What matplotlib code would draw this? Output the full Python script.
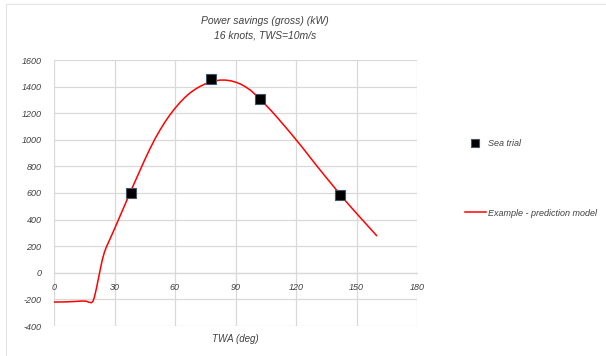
import matplotlib
matplotlib.use("Agg")
import matplotlib.pyplot as plt
from matplotlib.lines import Line2D
from matplotlib.patches import Rectangle

# data
trial_twa = [38, 78, 102, 142]
trial_kw = [600, 1460, 1305, 585]

model_twa = [0, 5, 10, 14, 16, 17.5, 18.5, 19.3, 20, 21, 22, 23, 24, 25, 26,
             27.5, 30, 32.5, 35, 37.5, 40, 42.5, 45, 47.5, 50, 52.5, 55, 57.5,
             60, 62.5, 65, 67.5, 70, 72.5, 75, 77.5, 80, 82.5, 85, 87.5, 90,
             92.5, 95, 97.5, 100, 102.5, 105, 107.5, 110, 112.5, 115, 117.5,
             120, 122.5, 125, 127.5, 130, 132.5, 135, 137.5, 140, 142.5, 145,
             147.5, 150, 152.5, 155, 157.5, 160]
model_kw = [-220, -219, -216, -212, -214, -222, -225, -215, -185, -120, -45,
            30, 100, 155, 195, 245, 330, 418, 506, 594, 680, 765, 850, 930,
            1005, 1072, 1133, 1188, 1237, 1281, 1320, 1353, 1380, 1402, 1420,
            1434, 1444, 1449, 1449, 1444, 1434, 1419, 1398, 1372, 1338, 1300,
            1262, 1222, 1180, 1136, 1092, 1047, 1001, 955, 907, 858, 810, 763,
            716, 670, 624, 578, 533, 490, 447, 405, 363, 321, 279]

x_ticks = [0, 30, 60, 90, 120, 150, 180]
y_ticks = [-400, -200, 0, 200, 400, 600, 800, 1000, 1200, 1400, 1600]

FONT = ["Liberation Sans Narrow", "Liberation Sans", "DejaVu Sans"]
TEXT = "#404040"
GRID = "#d9d9d9"

plt.rcParams["font.family"] = FONT
plt.rcParams["font.style"] = "italic"
plt.rcParams["axes.unicode_minus"] = False

fig = plt.figure(figsize=(6.06, 3.56), dpi=100)
fig.patch.set_facecolor("white")

# faint chart-area border (top and left visible in the reference)
fig.patches.append(Rectangle((6 / 606, -0.1), 1.2, 1.1 - 4 / 356,
                             transform=fig.transFigure, fill=False,
                             edgecolor="#e4e4e4", lw=0.8))

ax = fig.add_axes([54 / 606, 1 - 326 / 356, 363 / 606, 266 / 356])

ax.plot(model_twa, model_kw, color="#ff0000", lw=1.1, zorder=3,
        solid_joinstyle="round", solid_capstyle="round")
ax.plot(trial_twa, trial_kw, ls="none", marker="s", ms=6.5,
        mfc="black", mec="#44546a", mew=0.8, zorder=4)

ax.set_xlim(0, 180)
ax.set_ylim(-400, 1600)
ax.set_xticks(x_ticks)
ax.set_yticks(y_ticks)
ax.grid(True, color=GRID, lw=0.9)
ax.set_axisbelow(True)

for s in ["top", "right", "left"]:
    ax.spines[s].set_visible(False)
ax.spines["bottom"].set_position(("data", 0))
ax.spines["bottom"].set_color(GRID)
ax.spines["bottom"].set_linewidth(0.9)

ax.tick_params(axis="both", length=0, labelsize=6.5, colors=TEXT)
ax.tick_params(axis="x", pad=7)
ax.tick_params(axis="y", pad=9)

ax.set_xlabel("TWA (deg)", fontsize=7, color=TEXT, labelpad=0)
ax.xaxis.set_label_coords(0.5, -0.03)

fig.text(265 / 606, 1 - 21 / 356, "Power savings (gross) (kW)",
         ha="center", va="center", fontsize=7.5, color=TEXT)
fig.text(265 / 606, 1 - 36 / 356, "16 knots, TWS=10m/s",
         ha="center", va="center", fontsize=7.5, color=TEXT)

h1 = Line2D([], [], ls="none", marker="s", ms=5.5, mfc="black",
            mec="#44546a", mew=0.8)
h2 = Line2D([], [], color="#ff0000", lw=1.1)
fig.legend([h1], ["Sea trial"], loc="center left",
           bbox_to_anchor=(464 / 606, 1 - 144 / 356), frameon=False,
           fontsize=6.5, labelcolor=TEXT, handlelength=2.0,
           handletextpad=0.5, borderaxespad=0, borderpad=0.2)
fig.legend([h2], ["Example - prediction model"], loc="center left",
           bbox_to_anchor=(463 / 606, 1 - 213 / 356), frameon=False,
           fontsize=6.5, labelcolor=TEXT, handlelength=2.3,
           handletextpad=0.3, borderaxespad=0, borderpad=0.2)

fig.savefig("out.png", dpi=100, facecolor="white")
